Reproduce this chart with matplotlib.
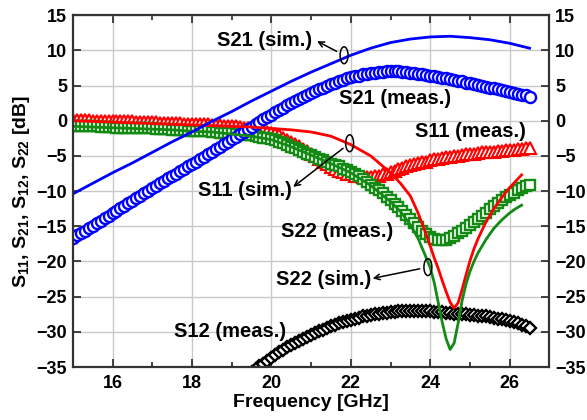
import numpy as np
import matplotlib
matplotlib.use('Agg')
from matplotlib import pyplot as plt
from matplotlib.patches import Ellipse

plt.rcParams['font.family'] = ['Liberation Sans', 'DejaVu Sans']
plt.rcParams['font.weight'] = 'bold'
plt.rcParams['mathtext.default'] = 'regular'

# measured sweep, 15 - 26.5 GHz in 0.1 GHz steps
freq_meas = np.round(np.arange(150, 266) / 10.0, 1)

s21_meas = [
    -16.6, -16.3, -15.9, -15.6, -15.2, -14.9, -14.5, -14.2, -13.8, -13.5,
    -13.1, -12.8, -12.4, -12.1, -11.7, -11.4, -11.0, -10.7, -10.3, -10.0,
    -9.6, -9.3, -8.9, -8.6, -8.2, -7.9, -7.5, -7.2, -6.8, -6.5,
    -6.1, -5.8, -5.4, -5.1, -4.7, -4.4, -4.0, -3.7, -3.3, -3.0,
    -2.6, -2.3, -1.9, -1.6, -1.2, -0.9, -0.5, -0.2, 0.2, 0.5,
    0.8, 1.2, 1.5, 1.8, 2.2, 2.5, 2.8, 3.1, 3.4, 3.7,
    4.0, 4.2, 4.5, 4.7, 5.0, 5.2, 5.4, 5.6, 5.8, 6.0,
    6.2, 6.3, 6.4, 6.6, 6.7, 6.8, 6.8, 6.9, 6.9, 7.0,
    7.0, 7.0, 7.0, 6.9, 6.9, 6.8, 6.8, 6.7, 6.6, 6.5,
    6.4, 6.3, 6.2, 6.1, 6.0, 5.9, 5.8, 5.7, 5.6, 5.4,
    5.3, 5.2, 5.1, 5.0, 4.8, 4.7, 4.6, 4.5, 4.4, 4.2,
    4.1, 4.0, 3.8, 3.7, 3.6, 3.4]

s11_meas = [
    0.1, 0.1, 0.1, 0.1, 0.1, 0.0, 0.0, 0.0, 0.0, 0.0,
    -0.1, -0.1, -0.1, -0.1, -0.1, -0.1, -0.2, -0.2, -0.2, -0.2,
    -0.2, -0.2, -0.3, -0.3, -0.3, -0.3, -0.3, -0.3, -0.4, -0.4,
    -0.4, -0.4, -0.5, -0.5, -0.5, -0.6, -0.6, -0.6, -0.7, -0.7,
    -0.8, -0.8, -0.9, -1.0, -1.0, -1.1, -1.2, -1.3, -1.4, -1.6,
    -1.7, -1.9, -2.1, -2.4, -2.7, -3.0, -3.3, -3.6, -4.0, -4.3,
    -4.7, -5.0, -5.4, -5.8, -6.2, -6.6, -6.9, -7.1, -7.3, -7.5,
    -7.6, -7.8, -7.9, -8.0, -8.0, -8.0, -7.9, -7.8, -7.6, -7.5,
    -7.3, -7.1, -6.9, -6.7, -6.5, -6.3, -6.2, -6.0, -5.9, -5.8,
    -5.6, -5.5, -5.4, -5.3, -5.2, -5.1, -5.0, -5.0, -4.9, -4.8,
    -4.7, -4.7, -4.6, -4.5, -4.5, -4.4, -4.4, -4.3, -4.3, -4.2,
    -4.1, -4.1, -4.0, -4.0, -3.9, -3.9]

s22_meas = [
    -0.7, -0.7, -0.7, -0.8, -0.8, -0.8, -0.8, -0.9, -0.9, -0.9,
    -0.9, -1.0, -1.0, -1.0, -1.0, -1.0, -1.1, -1.1, -1.1, -1.1,
    -1.1, -1.2, -1.2, -1.2, -1.2, -1.3, -1.3, -1.3, -1.3, -1.4,
    -1.4, -1.4, -1.5, -1.5, -1.5, -1.6, -1.6, -1.7, -1.7, -1.8,
    -1.8, -1.9, -1.9, -2.0, -2.1, -2.1, -2.2, -2.3, -2.4, -2.5,
    -2.6, -2.8, -3.0, -3.2, -3.4, -3.7, -3.9, -4.2, -4.4, -4.7,
    -4.9, -5.1, -5.4, -5.6, -5.8, -6.1, -6.3, -6.5, -6.8, -7.0,
    -7.3, -7.6, -7.9, -8.3, -8.7, -9.1, -9.5, -9.9, -10.3, -10.8,
    -11.3, -11.8, -12.3, -12.8, -13.4, -13.9, -14.5, -15.1, -15.6, -16.1,
    -16.5, -16.8, -17.0, -17.0, -16.9, -16.7, -16.4, -16.0, -15.6, -15.2,
    -14.8, -14.4, -14.0, -13.6, -13.1, -12.5, -12.1, -11.7, -11.3, -10.9,
    -10.5, -10.2, -9.9, -9.6, -9.3, -9.1]

# S12 only shows above the bottom edge from about 19.5 GHz on
freq_s12 = freq_meas[45:]
s12_meas = [
    -35.7, -35.3, -34.9, -34.5, -34.1,
    -33.7, -33.3, -32.9, -32.6, -32.2, -31.9, -31.6, -31.3, -31.0, -30.7,
    -30.4, -30.2, -29.9, -29.7, -29.4, -29.2, -29.0, -28.8, -28.6, -28.4,
    -28.3, -28.1, -28.0, -27.8, -27.7, -27.6, -27.5, -27.4, -27.3, -27.3,
    -27.2, -27.2, -27.1, -27.1, -27.1, -27.0, -27.0, -27.0, -27.1, -27.1,
    -27.1, -27.2, -27.2, -27.2, -27.3, -27.3, -27.4, -27.4, -27.5, -27.5,
    -27.6, -27.6, -27.7, -27.7, -27.8, -27.9, -28.0, -28.1, -28.2, -28.3,
    -28.4, -28.6, -28.8, -29.0, -29.2, -29.4]

# simulation
freq_s21_sim = [15, 15.5, 16, 16.5, 17, 17.5, 18, 18.5, 19, 19.5, 20, 20.5,
                21, 21.5, 22, 22.5, 23, 23.5, 24, 24.5, 25, 25.5, 26, 26.5]
s21_sim = [-10.4, -8.9, -7.4, -6.0, -4.5, -3.0, -1.6, -0.1, 1.3, 2.8, 4.2, 5.6,
           6.9, 8.1, 9.3, 10.3, 11.1, 11.6, 11.9, 12.0, 11.8, 11.5, 11.0, 10.3]

freq_sim = [15, 15.5, 16, 16.5, 17, 17.5, 18, 18.5, 19, 19.5, 20, 20.5,
            21, 21.5, 22, 22.5, 23, 23.25, 23.5, 23.7, 23.9, 24.0, 24.1, 24.2,
            24.3, 24.4, 24.5, 24.6, 24.7, 24.8, 24.9, 25.0, 25.1, 25.2, 25.4,
            25.6, 25.8, 26.0, 26.15, 26.3]
s11_sim = [0.0, -0.1, -0.2, -0.3, -0.4, -0.5, -0.6, -0.7, -0.8, -0.9, -1.1, -1.3,
           -1.6, -2.2, -3.4, -5.0, -7.4, -8.9, -10.7, -13.2, -16.2, -17.8, -19.5, -21.0,
           -22.7, -24.3, -25.8, -26.6, -25.9, -24.0, -21.9, -19.9, -18.2, -16.8, -14.4,
           -12.5, -10.9, -9.5, -8.6, -7.7]
s22_sim = [-0.8, -0.9, -1.0, -1.1, -1.2, -1.3, -1.5, -1.6, -1.9, -2.2, -2.7, -3.7,
           -4.9, -6.1, -7.4, -9.2, -11.5, -12.9, -14.8, -16.8, -19.5, -20.9, -23.0, -25.8,
           -28.6, -31.0, -32.5, -31.6, -28.8, -25.6, -23.2, -21.4, -20.0, -18.8, -16.9,
           -15.3, -14.1, -13.1, -12.5, -12.0]

fig = plt.figure(figsize=(5.87, 4.2), dpi=100)
ax = fig.add_axes([0.124, 0.126, 0.812, 0.838])

blue = '#0000ff'
red = '#ff0000'
green = '#138a13'

ax.plot(freq_meas, s11_meas, ls='none', marker='^', ms=8.5, mfc='white', mec=red, mew=1.5)
ax.plot(freq_meas, s22_meas, ls='none', marker='s', ms=7, mfc='white', mec=green, mew=1.7)
ax.plot(freq_meas, s21_meas, ls='none', marker='o', ms=8, mfc='white', mec=blue, mew=1.7)
ax.plot(freq_s12, s12_meas, ls='none', marker='D', ms=6.5, mfc='white', mec='black', mew=1.7)

ax.plot(freq_sim, s11_sim, color=red, lw=2)
ax.plot(freq_sim, s22_sim, color=green, lw=2)
ax.plot(freq_s21_sim, s21_sim, color=blue, lw=2)

ax.set_xlim(15, 27)
ax.set_ylim(-35, 15)
ax.set_xticks([16, 18, 20, 22, 24, 26])
ax.set_xticks([17, 19, 21, 23, 25], minor=True)
ax.set_yticks(np.arange(-35, 16, 5))
ax.grid(True, which='major', color='#c8c8c8', lw=1)
ax.set_axisbelow(True)
ax.tick_params(which='both', direction='in', top=True, right=True,
               labelright=True, labelsize=13, width=1.3, color='#333333')
ax.tick_params(which='major', length=6, pad=4)
ax.tick_params(axis='x', which='major', pad=6)
ax.tick_params(which='minor', length=3.5)
for sp in ax.spines.values():
    sp.set_linewidth(1.6)
    sp.set_color('#333333')

ax.set_xlabel('Frequency [GHz]', fontsize=14, fontweight='bold', labelpad=1)
ax.set_ylabel('S$_{11}$, S$_{21}$, S$_{12}$, S$_{22}$ [dB]', fontsize=14,
              fontweight='bold', labelpad=3)

# labels, (x, y) is the left end of each text
tfs = 14.5
ax.text(18.64, 11.4, 'S21 (sim.)', fontsize=tfs, fontweight='bold', va='center')
ax.text(21.70, 3.2, 'S21 (meas.)', fontsize=tfs, fontweight='bold', va='center')
ax.text(23.62, -1.6, 'S11 (meas.)', fontsize=tfs, fontweight='bold', va='center')
ax.text(18.16, -9.85, 'S11 (sim.)', fontsize=tfs, fontweight='bold', va='center')
ax.text(20.24, -15.8, 'S22 (meas.)', fontsize=tfs, fontweight='bold', va='center')
ax.text(20.11, -22.6, 'S22 (sim.)', fontsize=tfs, fontweight='bold', va='center')
ax.text(17.56, -30.0, 'S12 (meas.)', fontsize=tfs, fontweight='bold', va='center')

# ellipse on the sim curve + arrow to its label
marks = [((21.83, 9.3), (21.15, 11.3)),
         ((21.97, -3.2), (20.55, -9.4)),
         ((23.94, -20.8), (22.55, -22.4))]
for (ex, ey), (tx, ty) in marks:
    ax.add_patch(Ellipse((ex, ey), 0.2, 2.4, fill=False, ec='black', lw=1.1, zorder=5))
    ax.annotate('', xy=(tx, ty), xytext=(ex, ey),
                arrowprops=dict(arrowstyle='->', color='black', lw=1.1,
                                shrinkA=6, shrinkB=0), zorder=5)

fig.savefig('out.png', dpi=100)
